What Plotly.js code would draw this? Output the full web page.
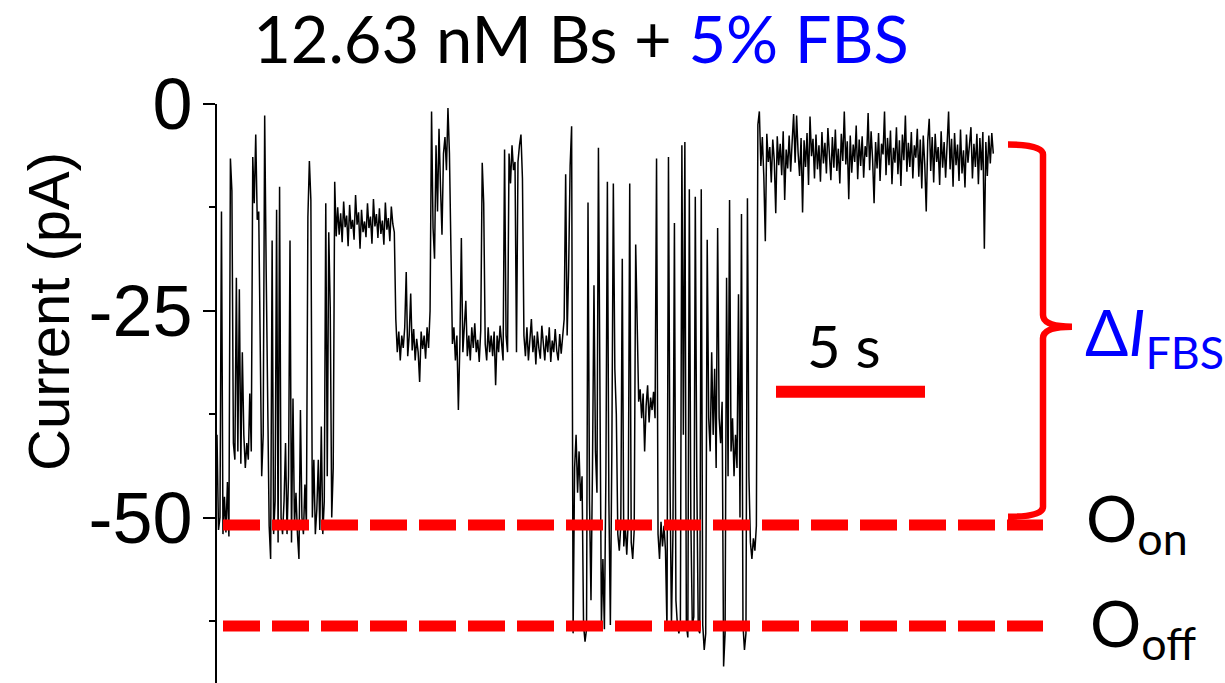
<!DOCTYPE html>
<html>
<head>
<meta charset="utf-8">
<script src="https://cdn.plot.ly/plotly-3.0.1.min.js"></script>
<style>html,body{margin:0;padding:0;background:#fff;}#chart{width:1225px;height:683px;}</style>
</head>
<body>
<div id="chart"></div>
<script>
// ---- data (current in pA, sampled every 0.05 s) ----
const sampleInterval = 0.05; // seconds per sample

const burstOpen = [-40, -51.5, -50, -13, -52, -47.5, -51.8, -45.7, -52.3, -6.6,
 -10.5, -41, -43, -21, -42, -22.4, -43.5, -30, -40, -44,
 -41, -43, -35, -42, -6.4, -12, -3.7, -14, -13, -30,
 -45, -40, -1.4, -20, -38, -51, -55, -16.5, -52, -48,
 -12.8, -53, -10, -50, -52, -48, -41, -52, -45, -16.5,
 -53, -35.6, -51, -47, -52, -55, -37, -50, -52, -46,
 -51, -13.7, -6.9, -11.6, -50, -43, -52, -49, -43, -51.5,
 -39, -52, -48, -12, -45, -15.5, -24.7, -50, -44];

const level15 = [-9.4, -16, -12.5, -15.8, -13.2, -16.7, -11.8, -14.9, -13.5, -17.2,
 -12.2, -15.1, -14.0, -16.4, -11.0, -14.6, -13.1, -17.5, -12.8, -15.5,
 -14.2, -16.1, -12.0, -15.0, -13.6, -16.9, -11.5, -14.8, -13.3, -16.2,
 -12.6, -15.7, -14.1, -17.0, -11.9, -15.2, -13.8, -16.6, -12.4, -14.5,
 -15.5];

const level29a = [-26, -30, -27.5, -31, -28, -29.5, -27, -20.3, -30.5, -28,
 -22.9, -29.8, -27.2, -31, -28.4, -30, -33.6, -27.5, -29.6, -28,
 -30.8, -27, -29.5];

const nearZero = [-25, -0.9, -15, -18.7, -5, -13, -3, -10, -15.8, -6, -4, -8, -0.5, -6, -17];

const level29b = [-29, -27, -31, -28, -37, -29, -16.2, -30, -27.5, -23.8,
 -30.5, -28, -31, -27, -29.5, -26.5, -30, -28.5, -31.2, -27.4,
 -7.1, -12, -29, -31, -27, -30, -28, -30.5, -27.5, -34,
 -28, -30, -26.8, -29.5, -31, -5.5, -28, -30, -6, -9.6,
 -5, -8, -7, -30, -7, -5, -3.7, -9, -28, -30.5,
 -27, -31, -28.5, -26, -30, -28, -31.5, -27.5, -29.5, -30.8,
 -26.8, -29, -31, -28, -30, -27, -31.2, -28.6, -30, -27.2,
 -29.8, -31, -27.8, -30.2, -28.5, -26, -8.5, -28, -20, -7.5,
 -2.7];

const burstOnOff = [-64, -44, -40, -47, -42, -48, -45, -63, -65, -63.5,
 -11.9, -48, -60, -44, -21.9, -42, -47, -5.3, -40, -63,
 -55, -63.5, -45, -9.4, -48, -63, -42, -9.6, -32, -37.5,
 -52, -54, -51, -18.7, -53.5, -51, -54.5, -50.5, -9.6, -53,
 -55, -51.5, -17, -26.5, -36, -34.5, -38, -35, -42, -36.5,
 -34, -38.5, -35.5, -37, -34.8, -38, -6.6, -52, -55, -50.5,
 -53.5, -51, -54, -63.5, -6.4, -45, -63, -52, -14.4, -60,
 -63, -64, -62.5, -5, -40, -4.6, -63, -64.5, -10.3, -50,
 -63, -62, -11.2, -45, -63.5, -64, -10.3, -63, -66, -64,
 -16.4, -38, -42, -30, -40, -32, -44, -15, -38, -41,
 -36, -68, -64, -21, -45, -11.6, -42, -38, -45, -40,
 -44, -23, -50, -13.3, -63, -66, -64, -11.4, -45, -53,
 -55, -52.5, -54, -51];

const levelFBS = [-2.5, -0.9, -7.5, -4.0, -8.8, -16.6, -3.6, -7.0, -5.2, -9.5,
 -4.3, -6.8, -13.2, -3.9, -7.4, -4.8, -8.6, -3.3, -11.6, -5.5,
 -7.8, -3.8, -8.2, -4.6, -1.2, -7.1, -1.4, -5.9, -8.7, -4.1,
 -13.1, -4.4, -7.6, -3.5, -9.8, -1.5, -6.3, -4.2, -9.0, -3.7,
 -7.9, -5.0, -9.4, -3.4, -7.2, -4.7, -8.4, -2.9, -6.6, -9.2,
 -4.0, -7.7, -3.1, -8.1, -5.4, -9.6, -3.6, -6.9, -0.9, -7.3,
 -4.5, -11.5, -3.8, -8.3, -4.9, -7.0, -2.6, -9.1, -4.3, -7.5,
 -3.9, -8.9, -5.1, -6.4, -1.1, -8.0, -3.3, -6.7, -12.0, -4.6,
 -7.8, -3.5, -9.3, -4.8, -6.1, -0.9, -8.6, -4.1, -7.4, -3.2,
 -9.7, -5.3, -7.1, -2.8, -8.5, -4.4, -9.9, -3.7, -6.8, -1.4,
 -8.2, -4.7, -7.6, -3.4, -9.0, -5.0, -6.5, -3.0, -8.8, -4.3,
 -10.2, -3.8, -7.3, -13.0, -4.5, -1.8, -8.1, -4.0, -9.5, -3.6,
 -7.0, -5.2, -9.8, -3.3, -7.7, -4.6, -8.9, -3.9, -0.9, -7.9,
 -4.2, -10.0, -3.5, -7.4, -4.9, -9.3, -3.1, -8.4, -5.6, -10.1,
 -3.7, -7.1, -4.4, -2.8, -9.0, -4.8, -7.6, -3.6, -9.7, -4.1,
 -8.0, -3.4, -17.5, -4.6, -8.7, -3.8, -7.2, -3.5, -6.0];

const levelOn = -50.9;   // O_on (pA)
const levelOff = -63.1;  // O_off (pA)
const braceTopLevel = -4.9;
const braceBottomLevel = -49.9;
const scaleBarSeconds = 5;
const yTickVals = [0, -25, -50];
const yTickText = ['0', '-25', '-50'];

// ---- build trace ----
const current = [].concat(burstOpen, level15, level29a, nearZero, level29b, burstOnOff, levelFBS);
const time = current.map((_, i) => i * sampleInterval);

// layout helpers (pixel -> data) used only for placing decorations
const plotLeft = 217, pxPerSec = 29.8, plotTop = 104.3, pxPerPA = 579 / 70;
const plotW = 1225 - plotLeft, plotH = 579, plotBottom = 683;
const tx = px => (px - plotLeft) / pxPerSec;
const ty = py => -(py - plotTop) / pxPerPA;

const RED = '#FF0000', BLUE = '#0000FF';
const calib = 'Lato, "Open Sans", sans-serif';
const arial = '"Liberation Sans", Arial, sans-serif';

const P = (x, y) => x.toFixed(4) + ',' + y.toFixed(4);
const xa = tx(1008), xs = tx(1043), xt = tx(1072);
const midLevel = ty(327);
const bracePath = 'M' + P(xa, braceTopLevel) +
  ' Q' + P(xs, braceTopLevel) + ' ' + P(xs, braceTopLevel - 1.2) +
  ' L' + P(xs, midLevel + 1.4) +
  ' Q' + P(xs, midLevel) + ' ' + P(xt, midLevel) +
  ' Q' + P(xs, midLevel) + ' ' + P(xs, midLevel - 1.4) +
  ' L' + P(xs, braceBottomLevel + 1.2) +
  ' Q' + P(xs, braceBottomLevel) + ' ' + P(xa, braceBottomLevel);

const data = [{
  x: time, y: current, type: 'scatter', mode: 'lines',
  line: {color: '#000000', width: 1.5}, hoverinfo: 'skip', showlegend: false
}];

const dashX0 = tx(223), dashX1 = tx(1043);
const barX0 = tx(776);

const layout = {
  width: 1225, height: 683,
  margin: {l: plotLeft, r: 0, t: 104, b: 0, pad: 0},
  paper_bgcolor: '#ffffff', plot_bgcolor: '#ffffff',
  showlegend: false,
  title: {
    text: '12.63 nM Bs + <span style="color:' + BLUE + '">5% FBS</span>',
    font: {family: calib, size: 65, color: '#000000'},
    x: 581 / 1225, xanchor: 'center', xref: 'container',
    y: 1 - 40 / 683, yanchor: 'middle', yref: 'container'
  },
  xaxis: {visible: false, range: [0, plotW / pxPerSec], fixedrange: true},
  yaxis: {
    range: [-70, 0], tickmode: 'array', tickvals: yTickVals, ticktext: yTickText,
    ticks: 'outside', ticklen: 12, tickwidth: 2, tickcolor: '#000000',
    ticklabelstandoff: -4,
    showline: true, linewidth: 2, linecolor: '#000000',
    showgrid: false, zeroline: false,
    tickfont: {family: arial, size: 72, color: '#000000'},
    minor: {tickmode: 'linear', tick0: 0, dtick: 12.5, ticks: 'outside', ticklen: 6, tickwidth: 2, tickcolor: '#000000', showgrid: false},
    automargin: false, fixedrange: true
  },
  shapes: [
    {type: 'line', xref: 'x', yref: 'y', x0: dashX0, x1: dashX1, y0: levelOn, y1: levelOn,
     line: {color: RED, width: 11, dash: '37px,12px'}},
    {type: 'line', xref: 'x', yref: 'y', x0: dashX0, x1: dashX1, y0: levelOff, y1: levelOff,
     line: {color: RED, width: 11, dash: '37px,12px'}},
    {type: 'line', xref: 'x', yref: 'y', x0: barX0, x1: barX0 + scaleBarSeconds, y0: ty(392), y1: ty(392),
     line: {color: RED, width: 12}},
    {type: 'path', xref: 'x', yref: 'y', path: bracePath,
     line: {color: RED, width: 6.5}, fillcolor: 'rgba(0,0,0,0)'}
  ],
  annotations: [
    {x: (48 - plotLeft) / plotW, y: (plotBottom - 312) / plotH, xref: 'paper', yref: 'paper',
     text: 'Current (pA)', textangle: -90, showarrow: false,
     xanchor: 'center', yanchor: 'middle', font: {family: arial, size: 58, color: '#000000'}},
    {x: tx(844), y: ty(346), xref: 'x', yref: 'y', text: '5 s', showarrow: false,
     xanchor: 'center', yanchor: 'middle', font: {family: calib, size: 58, color: '#000000'}},
    {x: tx(1084), y: ty(522), xref: 'x', yref: 'y', text: 'O<sub>on</sub>', showarrow: false,
     xanchor: 'left', yanchor: 'middle', font: {family: calib, size: 64, color: '#000000'}},
    {x: tx(1088), y: ty(627), xref: 'x', yref: 'y', text: 'O<sub>off</sub>', showarrow: false,
     xanchor: 'left', yanchor: 'middle', font: {family: calib, size: 64, color: '#000000'}},
    {x: tx(1083), y: ty(336), xref: 'x', yref: 'y', text: '\u0394<i>I</i><sub>FBS</sub>', showarrow: false,
     xanchor: 'left', yanchor: 'middle', font: {family: calib, size: 64, color: BLUE}}
  ]
};

Plotly.newPlot('chart', data, layout, {displayModeBar: false, staticPlot: true});
</script>
</body>
</html>
